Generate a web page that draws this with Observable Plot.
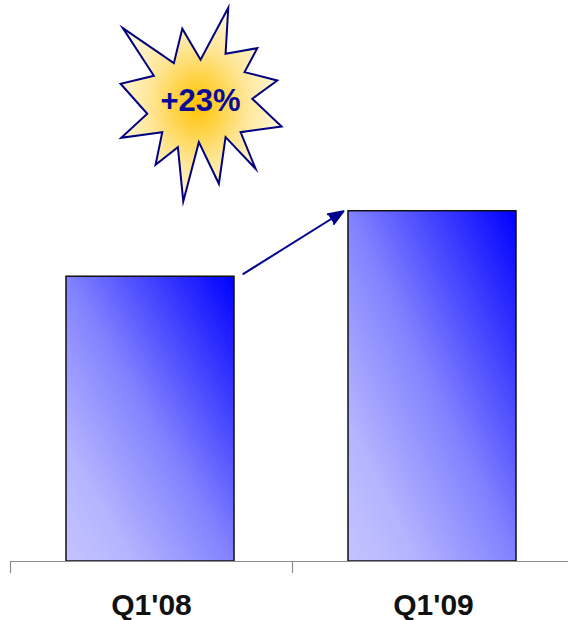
<!DOCTYPE html>
<html><head><meta charset="utf-8">
<script src="https://cdn.jsdelivr.net/npm/d3@7"></script>
<script src="https://cdn.jsdelivr.net/npm/@observablehq/plot@0.6"></script>
<style>body{margin:0;background:#fff;} #chart svg{display:block;}</style>
</head><body><div id="chart"></div>
<script>
// ---- data ----
const quarters = ["Q1'08", "Q1'09"];
const revenue = [100, 123];
const growthLabel = "+" + Math.round((revenue[1] / revenue[0] - 1) * 100) + "%";
// annotation anchors (data units: x = band index, y = value)
const arrowFrom = [0.826, 101];
const arrowTo = [1.181, 123];
const burstAt = [0.674, 160.5];

const bars = quarters.map((q, i) => ({q, i, value: revenue[i]}));
const arrowSeg = [{x1: arrowFrom[0], y1: arrowFrom[1], x2: arrowTo[0], y2: arrowTo[1]}];
const burstPos = [{x: burstAt[0], y: burstAt[1]}];

// starburst symbol shape (relative to radius 100)
const starShape = [
  [-77.7,-76.3],[-26.7,-41.3],[-18.3,-75.7],[0,-44.7],[27.7,-96.7],[25,-50.7],
  [56.7,-56.3],[44,-32.3],[76.7,-24],[51.7,-5.7],[81,22],[40,27.7],
  [55,64.3],[25,32.7],[18.3,79.3],[-1.7,37.7],[-17.3,97],[-22.7,42.7],
  [-45,60.3],[-38.3,27.7],[-79.3,33.3],[-53.3,9.3],[-80,-20.7],[-46.7,-28.7]
];
const burstSymbol = {
  draw(context, size) {
    const s = Math.sqrt(size / Math.PI) / 100;
    starShape.forEach(([x, y], k) => k ? context.lineTo(x * s, y * s) : context.moveTo(x * s, y * s));
    context.closePath();
  }
};

function gradients() {
  const d = document.createElementNS("http://www.w3.org/2000/svg", "defs");
  d.innerHTML = `
    <linearGradient id="barGrad" x1="0" y1="1" x2="1" y2="0">
      <stop offset="0" stop-color="#c4c4ff"/>
      <stop offset="0.2" stop-color="#b4b4ff"/>
      <stop offset="0.5" stop-color="#8282ff"/>
      <stop offset="1" stop-color="#0000ff"/>
    </linearGradient>
    <radialGradient id="sun" cx="0.48" cy="0.5" r="0.5">
      <stop offset="0" stop-color="#ffc200"/>
      <stop offset="0.6" stop-color="#ffe696"/>
      <stop offset="1" stop-color="#fff6d4"/>
    </radialGradient>`;
  return d;
}

const chart = Plot.plot({
  width: 568, height: 620,
  marginLeft: 10, marginRight: 0, marginTop: 0, marginBottom: 59,
  x: {domain: [0, 2], range: [10, 574]},
  y: {domain: [0, 197], axis: null},
  style: {fontFamily: "Arial, 'Liberation Sans', sans-serif", background: "white", overflow: "visible"},
  marks: [
    gradients,
    Plot.rectY(bars, {x1: "i", x2: d => d.i + 1, y: "value", insetLeft: 56, insetRight: 58,
      fill: "url(#barGrad)", stroke: "#111", strokeWidth: 1.5}),
    Plot.ruleY([0], {stroke: "#8c8c8c", strokeWidth: 1.2}),
    Plot.axisX({ticks: [0, 1, 2], tickSize: 12, tickFormat: () => "", stroke: "#8c8c8c", strokeWidth: 1.2}),
    Plot.text(bars, {x: d => d.i + 0.5, y: 0, text: "q", dy: 44, fontSize: 30, fontWeight: "bold", fill: "#111"}),
    Plot.arrow(arrowSeg, {x1: "x1", y1: "y1", x2: "x2", y2: "y2", stroke: "#00008c", fill: "#00008c",
      strokeWidth: 2, headLength: 12, headAngle: 42, strokeLinejoin: "miter"}),
    Plot.dot(burstPos, {x: "x", y: "y", r: 100, symbol: burstSymbol, fill: "url(#sun)",
      stroke: "#000080", strokeWidth: 2, strokeLinejoin: "miter", strokeMiterlimit: 10}),
    Plot.text(burstPos, {x: "x", y: "y", text: () => growthLabel, dy: -3, fontSize: 31, fontWeight: "bold", fill: "#0a0a96"})
  ]
});
document.getElementById("chart").appendChild(chart);
</script>
</body></html>
